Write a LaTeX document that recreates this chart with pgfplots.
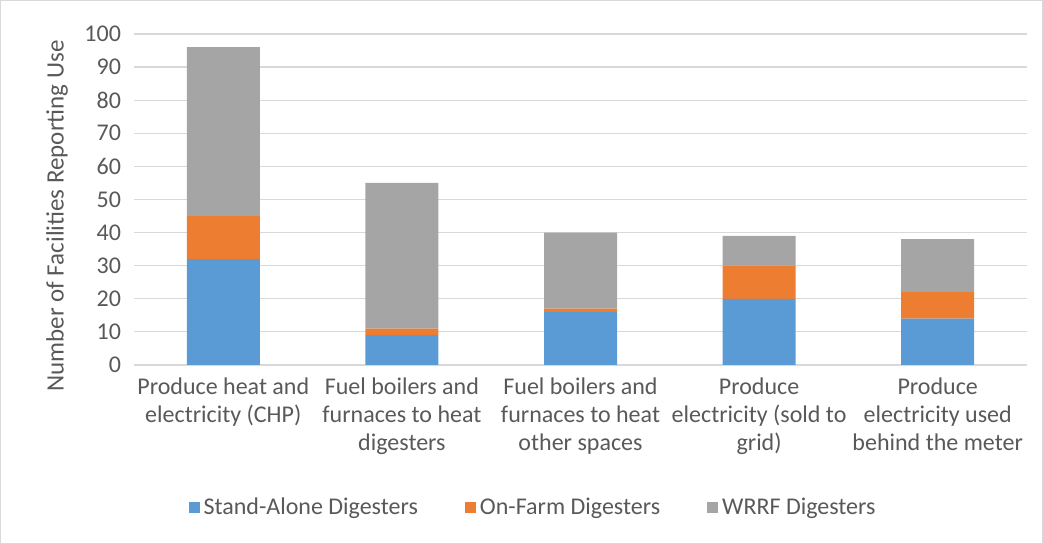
\documentclass[border=0pt]{standalone}
\usepackage{fontspec}
\setmainfont{Carlito}
\usepackage{pgfplots}
\pgfplotsset{compat=1.18}
\definecolor{cblue}{HTML}{5B9BD5}
\definecolor{corange}{HTML}{ED7D31}
\definecolor{cgray}{HTML}{A5A5A5}
\definecolor{gridc}{HTML}{D9D9D9}
\definecolor{txt}{HTML}{595959}
\begin{document}
\begin{tikzpicture}
\begin{axis}[
  scale only axis,
  width=446.5pt, height=165.5pt,
  ybar stacked,
  bar width=36.5pt,
  xmin=-0.5, xmax=4.5,
  ymin=0, ymax=100,
  ytick={0,10,...,100},
  xtick={0,1,2,3,4},
  xticklabels={{Produce heat and\\electricity (CHP)},{Fuel boilers and\\furnaces to heat\\digesters},{Fuel boilers and\\furnaces to heat\\other spaces},{Produce\\electricity (sold to\\grid)},{Produce\\electricity used\\behind the meter}},
  major tick length=0pt,
  axis line style={draw=none},
  ymajorgrids,
  grid style={gridc, line width=0.6pt},
  /pgf/number format/assume math mode=true,
  tick label style={font=\fontsize{12}{14}\selectfont, text=txt},
  xticklabel style={align=center, anchor=north, yshift=-3pt},
  yticklabel style={xshift=-3pt},
  ylabel={Number of Facilities Reporting Use},
  ylabel style={font=\fontsize{12.5}{14}\selectfont, text=txt, at={(axis description cs:-0.0862,0.45)}, anchor=center, rotate=0},
  legend style={at={(axis description cs:0.448,-0.432)}, anchor=center, draw=none, legend columns=3,
    font=\fontsize{12}{14}\selectfont, text=txt,
    /tikz/every even column/.append style={column sep=21.5pt}},
  legend image code/.code={\fill[#1] (0pt,-2.75pt) rectangle (5.5pt,2.75pt);},
  clip=false,
]
\addplot[fill=cblue, draw=none] coordinates {(0,32) (1,9) (2,16) (3,20) (4,14)};
\addplot[fill=corange, draw=none] coordinates {(0,13) (1,2) (2,1) (3,10) (4,8)};
\addplot[fill=cgray, draw=none] coordinates {(0,51) (1,44) (2,23) (3,9) (4,16)};
\legend{Stand-Alone Digesters, On-Farm Digesters, WRRF Digesters}
\end{axis}
\draw[gridc, line width=0.5pt] (-66.75pt,-89.25pt) rectangle (454.25pt,182.25pt);
\end{tikzpicture}
\end{document}
